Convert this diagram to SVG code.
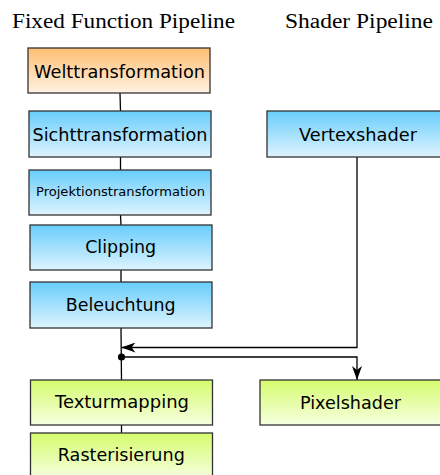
<svg xmlns="http://www.w3.org/2000/svg" width="440" height="475" viewBox="0 0 440 475">
<style>
.box{stroke:#333;stroke-width:1.3}
.lbl{font-family:"DejaVu Sans",sans-serif;font-size:17.5px;fill:#000;text-anchor:middle}
.ttl{font-family:"Liberation Serif","DejaVu Serif",serif;font-size:20.5px;fill:#000}
.con{stroke:#000;stroke-width:1.3;fill:none}
</style>
<defs>
<linearGradient id="gO" x1="0" y1="0" x2="0" y2="1"><stop offset="0" stop-color="#ffbe72"/><stop offset="1" stop-color="#fff2e3"/></linearGradient>
<linearGradient id="gB" x1="0" y1="0" x2="0" y2="1"><stop offset="0" stop-color="#68cdfb"/><stop offset="1" stop-color="#def4ff"/></linearGradient>
<linearGradient id="gG" x1="0" y1="0" x2="0" y2="1"><stop offset="0" stop-color="#d5fc6e"/><stop offset="1" stop-color="#f6ffe0"/></linearGradient>
<marker id="arr" viewBox="0 0 14 10" refX="14" refY="5" markerWidth="14" markerHeight="10" markerUnits="userSpaceOnUse" orient="auto">
<path d="M14,5 L0,0 L4,5 L0,10 Z" fill="#000"/>
</marker>
</defs>
<text class="ttl" x="12" y="28" textLength="223" lengthAdjust="spacingAndGlyphs">Fixed Function Pipeline</text>
<text class="ttl" x="285" y="28" textLength="148" lengthAdjust="spacingAndGlyphs">Shader Pipeline</text>
<g id="connectors">
<line class="con" x1="120" y1="93" x2="120.5" y2="111"/>
<line class="con" x1="120.5" y1="157" x2="120.5" y2="170"/>
<line class="con" x1="120.5" y1="215" x2="121" y2="225"/>
<line class="con" x1="121" y1="270" x2="121" y2="282"/>
<line class="con" x1="121" y1="328" x2="121.5" y2="380"/>
<line class="con" x1="121.5" y1="425" x2="121.5" y2="433"/>
<polyline class="con" points="357,157 357,347.5 121.5,347.5" marker-end="url(#arr)"/>
<polyline class="con" points="121.5,357 357,357 357,380" marker-end="url(#arr)"/>
<circle cx="121.5" cy="357" r="3.6" fill="#000"/>
</g>
<g id="welttransformation">
<rect class="box" x="28" y="48" width="182" height="45" fill="url(#gO)"/>
<text class="lbl" x="119.5" y="77.5" textLength="171" lengthAdjust="spacingAndGlyphs">Welttransformation</text>
</g>
<g id="sichttransformation">
<rect class="box" x="29" y="111" width="182" height="46" fill="url(#gB)"/>
<text class="lbl" x="120" y="140.5" textLength="175" lengthAdjust="spacingAndGlyphs">Sichttransformation</text>
</g>
<g id="projektionstransformation">
<rect class="box" x="29" y="170" width="182" height="45" fill="url(#gB)"/>
<text class="lbl" x="120.5" y="196" style="font-size:12.2px" textLength="169" lengthAdjust="spacingAndGlyphs">Projektionstransformation</text>
</g>
<g id="clipping">
<rect class="box" x="30" y="225" width="182" height="45" fill="url(#gB)"/>
<text class="lbl" x="120.7" y="253" textLength="71" lengthAdjust="spacingAndGlyphs">Clipping</text>
</g>
<g id="beleuchtung">
<rect class="box" x="30" y="282" width="182" height="46" fill="url(#gB)"/>
<text class="lbl" x="120.7" y="310.5" textLength="110" lengthAdjust="spacingAndGlyphs">Beleuchtung</text>
</g>
<g id="vertexshader">
<rect class="box" x="267" y="111" width="182" height="46" fill="url(#gB)"/>
<text class="lbl" x="358" y="140.5" textLength="118" lengthAdjust="spacingAndGlyphs">Vertexshader</text>
</g>
<g id="texturmapping">
<rect class="box" x="30.5" y="380" width="182" height="45" fill="url(#gG)"/>
<text class="lbl" x="122" y="408" textLength="134" lengthAdjust="spacingAndGlyphs">Texturmapping</text>
</g>
<g id="rasterisierung">
<rect class="box" x="30.5" y="433" width="182" height="46" fill="url(#gG)"/>
<text class="lbl" x="121.3" y="461" textLength="127" lengthAdjust="spacingAndGlyphs">Rasterisierung</text>
</g>
<g id="pixelshader">
<rect class="box" x="260" y="380" width="182" height="45" fill="url(#gG)"/>
<text class="lbl" x="350.5" y="409" textLength="101" lengthAdjust="spacingAndGlyphs">Pixelshader</text>
</g>
</svg>
